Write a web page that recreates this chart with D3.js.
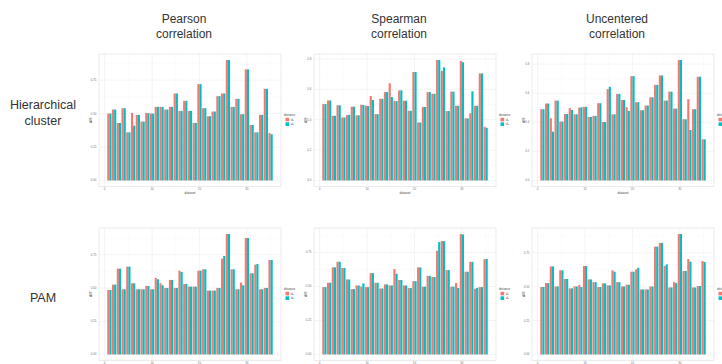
<!DOCTYPE html>
<html>
<head>
<meta charset="utf-8">
<script src="https://cdn.jsdelivr.net/npm/d3@7"></script>
<style>
  body{margin:0;background:#fff;}
  svg{display:block;}
</style>
</head>
<body>
<div id="chart"></div>
<script>
//---------DATA--------------
let colTitles=[["Pearson","correlation"],["Spearman","correlation"],["Uncentered","correlation"]];
let rowTitles=[["Hierarchical","cluster"],["PAM"]];
let distances=["d\u2081","d\u2082"];
let datasets=[1,2,3,4,5,6,7,8,9,10,11,12,13,14,15,16,17,18,19,20,21,22,23,24,25,26,27,28,29,30,31,32,33,34,35];
let xTicks=[0,10,20,30];

// hierarchical clustering
let pearsonHcD1=[0.50,0.53,0.43,0.54,0.36,0.505,0.49,0.44,0.505,0.50,0.55,0.55,0.53,0.55,0.65,0.52,0.595,0.52,0.43,0.72,0.54,0.48,0.515,0.63,0.65,0.90,0.55,0.61,0.495,0.83,0.415,0.36,0.49,0.685,0.355];
let pearsonHcD2=[0.50,0.53,0.43,0.54,0.36,0.41,0.49,0.44,0.503,0.50,0.55,0.55,0.53,0.55,0.65,0.52,0.595,0.52,0.43,0.72,0.54,0.48,0.515,0.63,0.65,0.90,0.55,0.61,0.495,0.83,0.415,0.36,0.49,0.685,0.345];
let spearmanHcD1=[0.503,0.527,0.426,0.495,0.415,0.43,0.486,0.429,0.499,0.492,0.556,0.437,0.538,0.582,0.64,0.523,0.593,0.525,0.459,0.714,0.382,0.484,0.582,0.571,0.793,0.721,0.457,0.585,0.492,0.787,0.409,0.442,0.492,0.705,0.354];
let spearmanHcD2=[0.503,0.527,0.426,0.495,0.415,0.432,0.486,0.429,0.497,0.49,0.53,0.437,0.538,0.582,0.55,0.523,0.593,0.525,0.459,0.714,0.382,0.484,0.582,0.571,0.793,0.745,0.457,0.585,0.492,0.778,0.409,0.587,0.492,0.705,0.347];
let uncenteredHcD1=[0.49,0.529,0.428,0.549,0.405,0.457,0.497,0.455,0.501,0.506,0.437,0.444,0.531,0.402,0.628,0.455,0.595,0.554,0.503,0.717,0.538,0.483,0.515,0.572,0.657,0.722,0.549,0.611,0.494,0.828,0.421,0.559,0.49,0.713,0.283];
let uncenteredHcD2=[0.49,0.529,0.336,0.549,0.405,0.457,0.485,0.455,0.503,0.506,0.437,0.444,0.531,0.402,0.644,0.455,0.595,0.554,0.478,0.717,0.538,0.483,0.515,0.572,0.657,0.722,0.549,0.611,0.494,0.828,0.421,0.347,0.49,0.713,0.283];

// PAM
let pearsonPamD1=[0.485,0.525,0.645,0.49,0.66,0.535,0.49,0.49,0.515,0.49,0.575,0.535,0.50,0.56,0.50,0.63,0.53,0.51,0.51,0.63,0.64,0.48,0.48,0.50,0.72,0.905,0.64,0.49,0.54,0.875,0.61,0.675,0.49,0.50,0.71];
let pearsonPamD2=[0.485,0.525,0.645,0.49,0.66,0.535,0.49,0.49,0.515,0.49,0.565,0.52,0.50,0.56,0.50,0.62,0.53,0.51,0.51,0.63,0.64,0.48,0.48,0.50,0.74,0.905,0.64,0.49,0.52,0.875,0.61,0.68,0.49,0.50,0.71];
let spearmanPamD1=[0.495,0.527,0.640,0.681,0.635,0.551,0.480,0.507,0.498,0.495,0.598,0.527,0.485,0.515,0.507,0.627,0.547,0.507,0.488,0.539,0.640,0.498,0.578,0.569,0.762,0.833,0.620,0.498,0.525,0.885,0.608,0.681,0.483,0.495,0.701];
let spearmanPamD2=[0.495,0.527,0.640,0.681,0.635,0.551,0.480,0.507,0.522,0.495,0.598,0.527,0.485,0.515,0.507,0.593,0.547,0.507,0.488,0.539,0.640,0.498,0.578,0.569,0.826,0.833,0.620,0.498,0.488,0.882,0.608,0.681,0.490,0.495,0.701];
let uncenteredPamD1=[0.498,0.527,0.650,0.502,0.621,0.557,0.488,0.502,0.512,0.653,0.554,0.534,0.498,0.525,0.510,0.621,0.534,0.502,0.515,0.611,0.628,0.480,0.480,0.502,0.796,0.823,0.653,0.495,0.534,0.889,0.616,0.704,0.495,0.505,0.690];
let uncenteredPamD2=[0.498,0.527,0.650,0.502,0.621,0.557,0.488,0.502,0.498,0.653,0.554,0.534,0.498,0.525,0.510,0.611,0.534,0.502,0.515,0.611,0.640,0.480,0.480,0.502,0.796,0.823,0.665,0.495,0.527,0.889,0.616,0.685,0.495,0.505,0.682];

let panelSeries=[
	[[pearsonHcD1,pearsonHcD2],[spearmanHcD1,spearmanHcD2],[uncenteredHcD1,uncenteredHcD2]],
	[[pearsonPamD1,pearsonPamD2],[spearmanPamD1,spearmanPamD2],[uncenteredPamD1,uncenteredPamD2]]
];

//---------LAYOUT--------------
let W=722,H=364;
let colLeft=[99,314,532];
let rowTop=[54,228];
let pw=182,ph=132.5;

let color=d3.scaleOrdinal().domain(distances).range(["#F8766D","#00BFC4"]);

let svg=d3.select("#chart").append("svg")
	.attr("width",W)
	.attr("height",H)
	.style("font-family","'Liberation Sans', Arial, sans-serif");

//-------TITLES---------------
colTitles.forEach(function(lines,c){
	let t=svg.append("text")
		.attr("x",colLeft[c]+pw/2-6)
		.attr("y",23)
		.attr("text-anchor","middle")
		.attr("font-size","12px")
		.attr("fill","#333");
	lines.forEach(function(l,i){
		t.append("tspan").attr("x",colLeft[c]+pw/2-6).attr("dy",i?15:0).text(l);
	});
});

rowTitles.forEach(function(lines,r){
	let t=svg.append("text")
		.attr("x",43)
		.attr("y",r==0?109:302)
		.attr("text-anchor","middle")
		.attr("font-size","12.5px")
		.attr("fill","#333");
	lines.forEach(function(l,i){
		t.append("tspan").attr("x",43).attr("dy",i?16:0).text(l);
	});
});

//-------PANELS---------------
panelSeries.forEach(function(row,r){
	row.forEach(function(pair,c){
		drawPanel(colLeft[c],rowTop[r],pair);
	});
});

function drawPanel(left,top,pair){
	let g=svg.append("g").attr("transform","translate("+left+","+top+")");

	let maxV=d3.max(pair,s=>d3.max(s));
	let y=d3.scaleLinear()
		.domain([-0.05*maxV,1.05*maxV])
		.range([ph,0]);
	let x=d3.scaleLinear()
		.domain([0.55-0.05*34.9,35.45+0.05*34.9])
		.range([0,pw]);

	let step=maxV>0.85?0.25:0.2;
	let fmt=step==0.25?d3.format(".2f"):d3.format(".1f");
	let yTicks=d3.range(0,maxV*1.05,step);
	let yMinor=yTicks.map(v=>v+step/2).filter(v=>v<maxV*1.05);
	let xMinor=xTicks.map(v=>v+5);

	// grid
	g.selectAll(".ymin").data(yMinor).enter().append("line")
		.attr("x1",0).attr("x2",pw)
		.attr("y1",d=>y(d)).attr("y2",d=>y(d))
		.attr("stroke","#f6f6f6").attr("stroke-width",0.5);
	g.selectAll(".xmin").data(xMinor).enter().append("line")
		.attr("y1",0).attr("y2",ph)
		.attr("x1",d=>x(d)).attr("x2",d=>x(d))
		.attr("stroke","#f6f6f6").attr("stroke-width",0.5);
	g.selectAll(".ymaj").data(yTicks).enter().append("line")
		.attr("x1",0).attr("x2",pw)
		.attr("y1",d=>y(d)).attr("y2",d=>y(d))
		.attr("stroke","#ececec").attr("stroke-width",0.6);
	g.selectAll(".xmaj").data(xTicks).enter().append("line")
		.attr("y1",0).attr("y2",ph)
		.attr("x1",d=>x(d)).attr("x2",d=>x(d))
		.attr("stroke","#ececec").attr("stroke-width",0.6);

	// bars
	pair.forEach(function(series,k){
		g.selectAll(".bar"+k).data(series).enter().append("rect")
			.attr("x",(d,i)=>x(datasets[i]-0.45+k*0.45))
			.attr("width",x(0.45)-x(0))
			.attr("y",d=>y(d))
			.attr("height",d=>y(0)-y(d))
			.attr("fill",color(distances[k]));
	});

	g.append("rect")
		.attr("width",pw).attr("height",ph)
		.attr("fill","none")
		.attr("stroke","#e3e3e3").attr("stroke-width",0.7);

	// axis labels
	g.selectAll(".ylab").data(yTicks).enter().append("text")
		.attr("x",-2.5).attr("y",d=>y(d)+1)
		.attr("text-anchor","end")
		.attr("font-size","3px").attr("fill","#777")
		.text(fmt);
	g.selectAll(".xlab").data(xTicks).enter().append("text")
		.attr("x",d=>x(d)).attr("y",ph+3.4)
		.attr("text-anchor","middle")
		.attr("font-size","3px").attr("fill","#777")
		.text(d=>d);
	g.append("text")
		.attr("x",pw/2).attr("y",ph+7.2)
		.attr("text-anchor","middle")
		.attr("font-size","3.3px").attr("fill","#444")
		.text("dataset");
	g.append("text")
		.attr("transform","translate(-7.5,"+(ph/2)+") rotate(-90)")
		.attr("text-anchor","middle")
		.attr("font-size","3.3px").attr("fill","#444")
		.text("ARI");

	// legend
	let lg=g.append("g").attr("transform","translate("+(pw+3)+","+(ph/2-4.5)+")");
	lg.append("text").attr("x",0).attr("y",0)
		.attr("font-size","3px").attr("fill","#444")
		.text("distance");
	distances.forEach(function(d,i){
		lg.append("rect")
			.attr("x",1.5).attr("y",2+i*4.6)
			.attr("width",3.6).attr("height",3.6)
			.attr("fill",color(d));
		lg.append("text")
			.attr("x",7).attr("y",5+i*4.6)
			.attr("font-size","3px").attr("fill","#555")
			.text(d);
	});
}
</script>
</body>
</html>
